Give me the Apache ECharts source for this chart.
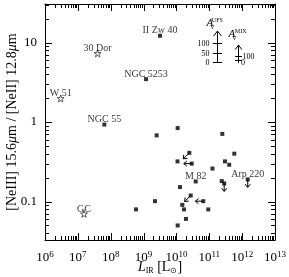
<!DOCTYPE html>
<html><head><meta charset="utf-8">
<script src="https://cdn.jsdelivr.net/npm/echarts@6/dist/echarts.min.js"></script>
<style>html,body{margin:0;padding:0;background:#fff}#c{width:289px;height:277px}</style>
</head><body><div id="c"></div>
<script>
// ---- data ----
const xTicks = [1e6, 1e7, 1e8, 1e9, 1e10, 1e11, 1e12, 1e13];
const yTicks = [0.1, 1, 10];
const xRange = [1e6, 1e13];
const yRange = [0.0328, 30.6];

const starNames = ['30 Dor', 'W 51', 'GC'];
const starL = [4.0e7, 3.0e6, 1.54e7];
const starRatio = [7.3, 1.98, 0.070];

const galNames = ['II Zw 40', 'NGC 5253', 'NGC 55', '', '', '', '', '', '', '', '', '', '', 'M 82', '', '', '', 'Arp 220', '', '', '', '', '', '', '', '', ''];
const galL = [3.16e9, 1.19e9, 6.4e7, 2.5e9, 1.09e10, 2.49e11, 2.47e10, 1.08e10, 2.92e10, 1.25e11, 5.77e11, 3.01e11, 4.04e11, 3.86e10, 1.28e10, 2.39e11, 2.84e11, 1.48e12, 2.72e10, 2.23e9, 1.51e10, 1.70e10, 6.58e10, 9.33e10, 1.95e10, 1.09e10, 5.9e8];
const galRatio = [12.2, 3.47, 0.93, 0.68, 0.84, 0.71, 0.41, 0.32, 0.30, 0.26, 0.40, 0.32, 0.29, 0.179, 0.152, 0.181, 0.169, 0.19, 0.119, 0.101, 0.0907, 0.0796, 0.101, 0.0796, 0.0604, 0.050, 0.0796];
// limit type: 'x' = upper limit on L (arrow left), 'y' = upper limit on ratio (arrow down), 'xy' = both
const galLimit = ['', '', '', '', '', '', 'xy', '', 'x', '', '', '', '', '', '', '', 'y', 'y', 'xy', '', '', '', 'x', '', '', '', ''];

// extinction key
const ufsL = 1.68e11, ufsTip = 13.97;
const ufsLevels = ['0', '50', '100'];
const ufsRatio = [5.68, 7.44, 9.77];
const mixL = 7.33e11, mixTip = 9.30, mixBase = 5.52;
const mixLevels = ['0', '100'];
const mixRatio = [6.11, 6.86];

// ---- chart ----
const F = 'Liberation Serif';
function minorOf(lo, hi) {
  const out = [];
  for (let e = -3; e <= 14; e++) for (let k = 2; k <= 9; k++) {
    const v = parseFloat((k * Math.pow(10, e)).toPrecision(6));
    if (v > lo && v < hi) out.push(v);
  }
  return out;
}
const xMinor = minorOf(xRange[0], xRange[1]);
const yMinor = minorOf(yRange[0], yRange[1]);
const black = { color: '#000', width: 1 };

function axis(kind, pos, label) {
  const a = {
    type: 'log', logBase: 10, position: pos,
    min: kind === 'x' ? xRange[0] : yRange[0],
    max: kind === 'x' ? xRange[1] : yRange[1],
    axisLine: { show: true, onZero: false, lineStyle: black },
    axisTick: { show: false },
    axisLabel: { show: false },
    splitLine: { show: false }, minorTick: { show: false }
  };
  if (label) a.axisLabel = label;
  return a;
}
const xLabel = {
  show: true, customValues: xTicks, margin: 10,
  formatter: v => '{b|10}{s|' + Math.round(Math.log10(v)) + '}',
  rich: {
    b: { fontSize: 13, fontFamily: F, color: '#000', lineHeight: 15 },
    s: { fontSize: 9, fontFamily: F, color: '#000', verticalAlign: 'top', lineHeight: 9 }
  }
};
const yLabel = {
  show: true, customValues: yTicks, margin: 8, fontSize: 13, fontFamily: F, color: '#000',
  formatter: v => (v >= 1 ? String(Math.round(v)) : String(v))
};

const xMain = axis('x', 'bottom', xLabel);
xMain.name = '{i|L}{sub|IR} [L{sub|\u2299}]';
xMain.nameLocation = 'middle';
xMain.nameGap = 19;
xMain.nameMoveOverlap = false;
xMain.nameTextStyle = {
  fontFamily: F, fontSize: 14, color: '#000', lineHeight: 16,
  rich: {
    i: { fontFamily: F, fontSize: 14, fontStyle: 'italic', color: '#000', lineHeight: 16 },
    sub: { fontFamily: F, fontSize: 8, color: '#000', verticalAlign: 'bottom', lineHeight: 9 }
  }
};
const yMain = axis('y', 'left', yLabel);
yMain.name = '[NeIII] 15.6{i|\u03bc}m / [NeII] 12.8{i|\u03bc}m';
yMain.nameLocation = 'middle';
yMain.nameGap = 26;
yMain.nameMoveOverlap = false;
yMain.nameTextStyle = {
  fontFamily: F, fontSize: 14, color: '#000',
  rich: { i: { fontFamily: F, fontSize: 14, fontStyle: 'italic', color: '#000' } }
};

const galData = galL.map((x, i) => ({ value: [x, galRatio[i]], name: galNames[i] }));
const starData = starL.map((x, i) => ({ value: [x, starRatio[i]], name: starNames[i] }));
const limIdx = galLimit.map((t, i) => t ? i : -1).filter(i => i >= 0);
const limData = limIdx.map(i => [galL[i], galRatio[i]]);

const MAJ = 7, MIN = 4;
function seg(x1, y1, x2, y2) {
  return { type: 'line', shape: { x1: x1, y1: y1, x2: x2, y2: y2 }, style: { stroke: '#000', lineWidth: 1 } };
}
function bar(x, y, w, h) {
  return { type: 'rect', shape: { x: x, y: y, width: w, height: h }, style: { fill: '#000' } };
}
// all tick marks on the four sides, placed through the axes' scales
function tickItem(params, api) {
  const a = api.coord([xRange[0], yRange[0]]);
  const c = api.coord([xRange[1], yRange[1]]);
  const l = Math.round(a[0]), b = Math.round(a[1]), r = Math.round(c[0]), t = Math.round(c[1]);
  const ch = [];
  const addX = (v, len) => {
    const x = Math.round(api.coord([v, 1])[0]);
    ch.push(bar(x, b - len, 1, len), bar(x, t, 1, len));
  };
  const addY = (v, len) => {
    const y = Math.round(api.coord([1e9, v])[1]);
    ch.push(bar(l, y, len, 1), bar(r - len, y, len, 1));
  };
  xTicks.forEach(v => addX(v, MAJ));
  xMinor.forEach(v => addX(v, MIN));
  yTicks.forEach(v => addY(v, MAJ));
  yMinor.forEach(v => addY(v, MIN));
  return { type: 'group', children: ch };
}

const starPath = 'path://M0,-1L0.2245,-0.309L0.951,-0.309L0.363,0.118L0.588,0.809L0,0.382L-0.588,0.809L-0.363,0.118L-0.951,-0.309L-0.2245,-0.309Z';

function arrowItem(params, api) {
  const p = api.coord([api.value(0), api.value(1)]);
  const t = galLimit[limIdx[params.dataIndex]];
  let dx = 0, dy = 0;
  if (t === 'y') dy = 8; else if (t === 'x') dx = -8; else { dx = -6; dy = 6; }
  const ex = p[0] + dx, ey = p[1] + dy;
  const L = Math.hypot(dx, dy), ux = dx / L, uy = dy / L;
  const h = 3.2, w = 2.6, bx = ex - ux * h, by = ey - uy * h, nx = -uy, ny = ux;
  return { type: 'group', children: [
    seg(p[0], p[1], ex, ey),
    { type: 'polyline', shape: { points: [[bx + nx * w, by + ny * w], [ex, ey], [bx - nx * w, by - ny * w]] }, style: { stroke: '#000', fill: null, lineWidth: 1 } }
  ] };
}

function txt(x, y, s, size, extra) {
  return { type: 'text', x: x, y: y, style: Object.assign({ text: s, fontFamily: F, fontSize: size, fill: '#000', align: 'center', verticalAlign: 'middle' }, extra || {}) };
}
function keyItem(params, api) {
  const ch = [];
  if (params.dataIndex === 0) {
    const tip = api.coord([ufsL, ufsTip]);
    const x = Math.round(tip[0]) + 0.5;
    const lv = ufsRatio.map(r => Math.round(api.coord([ufsL, r])[1]) + 0.5);
    ch.push(seg(x, lv[0], x, tip[1]));
    ch.push({ type: 'polyline', shape: { points: [[x - 4, tip[1] + 5], [x, tip[1]], [x + 4, tip[1] + 5]] }, style: { stroke: '#000', fill: null, lineWidth: 1 } });
    lv.forEach((y, i) => {
      ch.push(seg(x - 4.7, y, x + 4.7, y));
      ch.push(txt(x - 8, y, ufsLevels[i], 8, { align: 'right' }));
    });
    ch.push(txt(x - 7.7, tip[1] - 7.7, 'A', 11, { fontStyle: 'italic' }));
    ch.push(txt(x - 5.7, tip[1] - 11, 'UFS', 6, { align: 'left' }));
    ch.push(txt(x - 5.2, tip[1] - 4, 'V', 6));
  } else {
    const tip = api.coord([mixL, mixTip]);
    const x = Math.round(tip[0]) + 0.5;
    const base = api.coord([mixL, mixBase])[1];
    const lv = mixRatio.map(r => Math.round(api.coord([mixL, r])[1]) + 0.5);
    ch.push(seg(x, base, x, tip[1]));
    ch.push({ type: 'polyline', shape: { points: [[x - 3.4, tip[1] + 4.5], [x, tip[1]], [x + 3.4, tip[1] + 4.5]] }, style: { stroke: '#000', fill: null, lineWidth: 1 } });
    lv.forEach(y => ch.push(seg(x - 3.4, y, x + 3.4, y)));
    ch.push(txt(x + 4, lv[1], mixLevels[1], 8, { align: 'left' }));
    ch.push(txt(x + 4.5, lv[0] + 2.5, mixLevels[0], 8, { align: 'center' }));
    ch.push(txt(x - 6.7, tip[1] - 11, 'A', 11, { fontStyle: 'italic' }));
    ch.push(txt(x - 3.7, tip[1] - 14, 'MIX', 6, { align: 'left' }));
    ch.push(txt(x - 4.2, tip[1] - 7, 'V', 6));
  }
  return { type: 'group', children: ch };
}

const chart = echarts.init(document.getElementById('c'), null, { renderer: 'canvas' });
chart.setOption({
  animation: false,
  backgroundColor: '#fff',
  grid: { left: 45, right: 14, top: 4, bottom: 37, containLabel: false, outerBoundsMode: 'none' },
  xAxis: [xMain, axis('x', 'top')],
  yAxis: [yMain, axis('y', 'right')],
  series: [
    { type: 'custom', xAxisIndex: 0, yAxisIndex: 0, data: [[1e9, 1]], renderItem: tickItem, clip: false, z: 3 },
    { type: 'custom', xAxisIndex: 0, yAxisIndex: 0, data: limData, renderItem: arrowItem, clip: false, z: 3 },
    { type: 'custom', xAxisIndex: 0, yAxisIndex: 0, data: [[ufsL, ufsTip], [mixL, mixTip]], renderItem: keyItem, clip: false, z: 3 },
    {
      type: 'scatter', xAxisIndex: 0, yAxisIndex: 0, data: galData,
      symbol: 'rect', symbolSize: 4, itemStyle: { color: '#000' }, z: 5,
      label: { show: true, position: 'top', distance: -2, formatter: '{b}', fontFamily: F, fontSize: 10, color: '#000' }
    },
    {
      type: 'scatter', xAxisIndex: 0, yAxisIndex: 0, data: starData,
      symbol: starPath, symbolSize: [7, 7], itemStyle: { color: '#fff', borderColor: '#000', borderWidth: 0.8 }, z: 5,
      label: { show: true, position: 'top', distance: -4, formatter: '{b}', fontFamily: F, fontSize: 10, color: '#000' }
    }
  ]
});
</script></body></html>
